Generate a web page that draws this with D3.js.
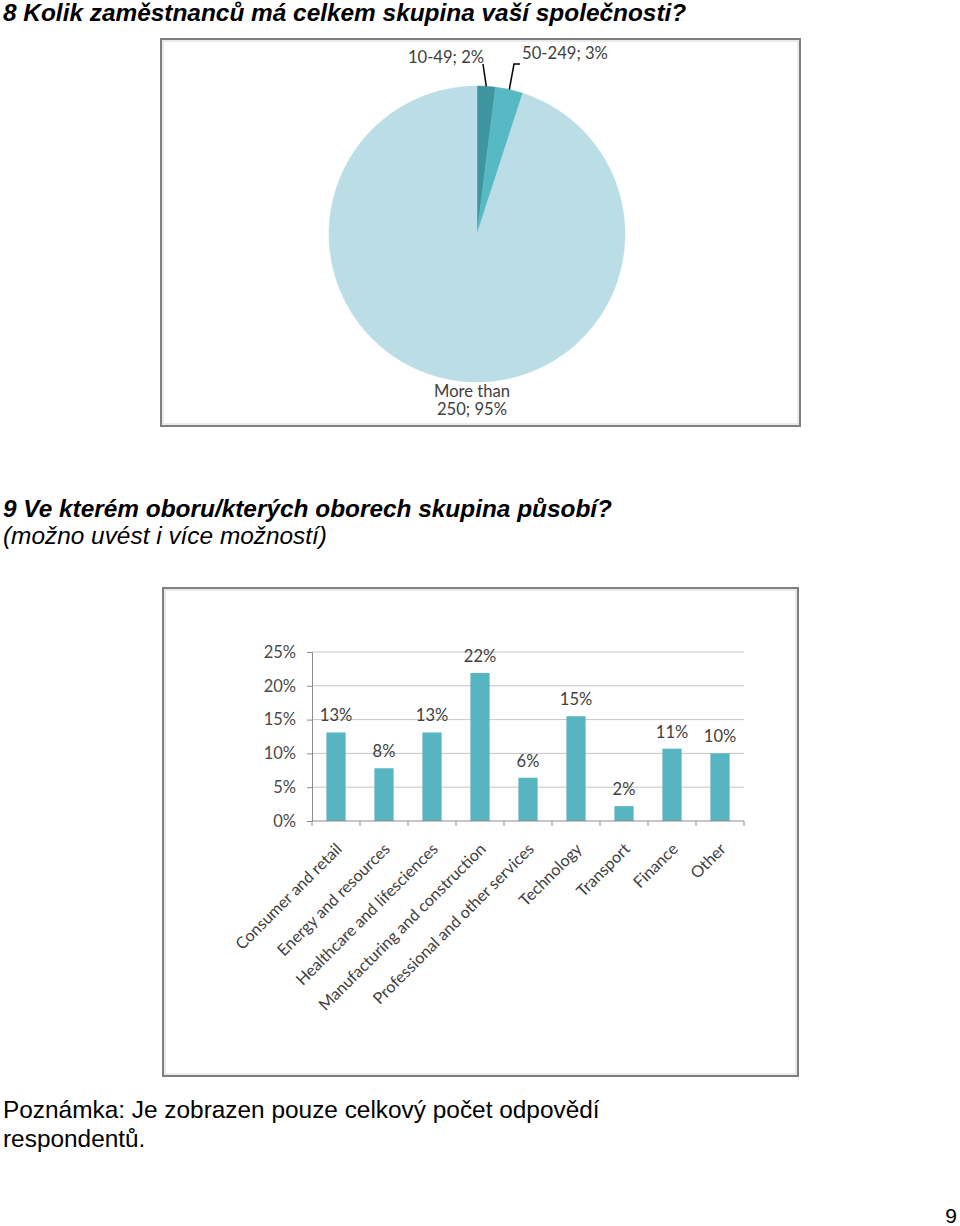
<!DOCTYPE html>
<html>
<head>
<meta charset="utf-8">
<script src="https://cdn.jsdelivr.net/npm/d3@7"></script>
<style>
  html, body { margin: 0; padding: 0; background: #ffffff; }
  svg { display: block; }
</style>
</head>
<body>
<svg id="page" width="960" height="1226"></svg>
<script>
// ---------- DATA ----------
const pieCategories = ["10-49", "50-249", "More than 250"];
const pieValues = [2, 3, 95];
const pieLabelLines = [["10-49; 2%"], ["50-249; 3%"], ["More than", "250; 95%"]];

const barCategories = [
  "Consumer and retail",
  "Energy and resources",
  "Healthcare and lifesciences",
  "Manufacturing and construction",
  "Professional and other services",
  "Technology",
  "Transport",
  "Finance",
  "Other"
];
const barValues = [13.1, 7.8, 13.1, 21.9, 6.4, 15.5, 2.2, 10.7, 10.0];
const barLabels = ["13%", "8%", "13%", "22%", "6%", "15%", "2%", "11%", "10%"];
const yTicks = [0, 5, 10, 15, 20, 25];

// ---------- STYLE ----------
const headFont = "'Liberation Sans', Arial, sans-serif";
const chartFont = "Lato, 'Open Sans', sans-serif";
const headSize = 24.4;
const svg = d3.select("#page");

// Headings
svg.append("text").attr("x", 3).attr("y", 21)
  .attr("font-family", headFont).attr("font-size", headSize).attr("font-weight", "bold").attr("font-style", "italic")
  .text("8 Kolik zaměstnanců má celkem skupina vaší společnosti?");
svg.append("text").attr("x", 3).attr("y", 517)
  .attr("font-family", headFont).attr("font-size", headSize).attr("font-weight", "bold").attr("font-style", "italic")
  .text("9 Ve kterém oboru/kterých oborech skupina působí?");
svg.append("text").attr("x", 3).attr("y", 544)
  .attr("font-family", headFont).attr("font-size", headSize).attr("font-style", "italic")
  .text("(možno uvést i více možností)");
svg.append("text").attr("x", 3).attr("y", 1118)
  .attr("font-family", headFont).attr("font-size", headSize)
  .text("Poznámka: Je zobrazen pouze celkový počet odpovědí");
svg.append("text").attr("x", 3).attr("y", 1147)
  .attr("font-family", headFont).attr("font-size", headSize)
  .text("respondentů.");
svg.append("text").attr("x", 957).attr("y", 1223).attr("text-anchor", "end")
  .attr("font-family", headFont).attr("font-size", 21)
  .text("9");

// ---------- PIE ----------
function frame(fx, fy, fw, fh) {
  svg.append("rect").attr("x", fx).attr("y", fy).attr("width", fw).attr("height", fh)
    .attr("fill", "#ffffff").attr("stroke", "#7f7f7f").attr("stroke-width", 2);
  svg.append("rect").attr("x", fx + 2).attr("y", fy + 2).attr("width", fw - 4).attr("height", fh - 4)
    .attr("fill", "none").attr("stroke", "#d6d6d6").attr("stroke-width", 1);
}
frame(161, 39, 639, 387);

const pieColors = ["#3f959f", "#57b9c4", "#badde6"];
const pcx = 477, pcy = 234, pr = 148;
const pieGen = d3.pie().sort(null).value(d => d)(pieValues);
const arcGen = d3.arc().innerRadius(0).outerRadius(pr);
const pg = svg.append("g").attr("transform", `translate(${pcx},${pcy})`);
pg.selectAll("path").data(pieGen).join("path")
  .attr("d", arcGen).attr("fill", (d, i) => pieColors[i])
  .attr("stroke", (d, i) => pieColors[i]).attr("stroke-width", 0.5);

// leader lines from slice edge
function edgePoint(d) {
  const a = (d.startAngle + d.endAngle) / 2;
  return [pcx + pr * Math.sin(a), pcy - pr * Math.cos(a)];
}
const p0 = edgePoint(pieGen[0]);
const p1 = edgePoint(pieGen[1]);
svg.append("path").attr("d", `M${p0[0]},${p0[1]} L483,64`)
  .attr("stroke", "#000").attr("stroke-width", 1.5).attr("fill", "none");
svg.append("path").attr("d", `M${p1[0]},${p1[1]} L514,64 L520,64`)
  .attr("stroke", "#000").attr("stroke-width", 1.5).attr("fill", "none");

const pieLabelPos = [[446, 63], [565, 59], [472, 397]];
pieLabelLines.forEach((lines, i) => {
  const t = svg.append("text").attr("font-family", chartFont).attr("font-size", 16.6)
    .attr("fill", "#404040").attr("text-anchor", "middle");
  lines.forEach((ln, j) => {
    t.append("tspan").attr("x", pieLabelPos[i][0]).attr("y", pieLabelPos[i][1] + j * 18).text(ln);
  });
});

// ---------- BAR ----------
frame(163, 588, 635, 488);

const pL = 312, pR = 744, pT = 652, pB = 821;
const xs = d3.scaleBand().domain(barCategories).range([pL, pR]).paddingInner(0.6).paddingOuter(0.3);
const ys = d3.scaleLinear().domain([0, 25]).range([pB, pT]);

// gridlines
svg.append("g").selectAll("line").data(yTicks.slice(1)).join("line")
  .attr("x1", pL).attr("x2", pR).attr("y1", d => ys(d)).attr("y2", d => ys(d))
  .attr("stroke", "#c6c6c6").attr("stroke-width", 1);

// y axis
const yAxis = svg.append("g").attr("transform", `translate(${pL},0)`)
  .call(d3.axisLeft(ys).tickValues(yTicks).tickFormat(d => d + "%").tickSize(5).tickPadding(11));
yAxis.select(".domain").attr("stroke", "#8c8c8c");
yAxis.selectAll(".tick line").attr("stroke", "#8c8c8c");
yAxis.selectAll("text").attr("font-family", chartFont).attr("font-size", 16.5).attr("fill", "#4a4a4a");

// bars
svg.append("g").selectAll("rect").data(barValues).join("rect")
  .attr("x", (d, i) => xs(barCategories[i]))
  .attr("width", xs.bandwidth())
  .attr("y", d => ys(d))
  .attr("height", d => ys(0) - ys(d))
  .attr("fill", "#56b5c1");

// x axis line and category-boundary ticks
const bounds = d3.range(barCategories.length + 1).map(i => pL + i * (pR - pL) / barCategories.length);
svg.append("line").attr("x1", pL).attr("x2", pR).attr("y1", pB).attr("y2", pB)
  .attr("stroke", "#8c8c8c");
svg.append("g").selectAll("line").data(bounds).join("line")
  .attr("x1", d => d).attr("x2", d => d).attr("y1", pB).attr("y2", pB + 5)
  .attr("stroke", "#8c8c8c");

// data labels
svg.append("g").selectAll("text").data(barValues).join("text")
  .attr("x", (d, i) => xs(barCategories[i]) + xs.bandwidth() / 2)
  .attr("y", d => ys(d) - 11)
  .attr("text-anchor", "middle")
  .attr("font-family", chartFont).attr("font-size", 16.5).attr("fill", "#404040")
  .text((d, i) => barLabels[i]);

// category labels
svg.append("g").selectAll("text").data(barCategories).join("text")
  .attr("transform", d => `translate(${xs(d) + xs.bandwidth() / 2 + 7},${pB + 29}) rotate(-45)`)
  .attr("text-anchor", "end")
  .attr("font-family", chartFont).attr("font-size", 16.2).attr("fill", "#404040")
  .text(d => d);
</script>
</body>
</html>
